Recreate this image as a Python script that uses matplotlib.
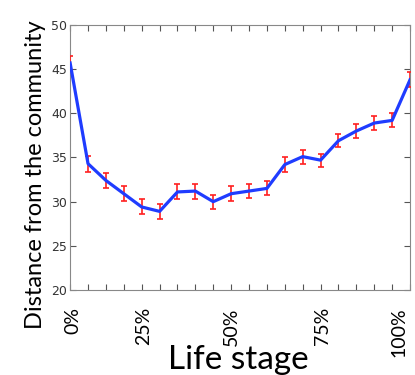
import matplotlib
matplotlib.use('Agg')
import matplotlib.pyplot as plt
import numpy as np

# данные
stage = list(range(20))
distance = [45.7, 34.3, 32.4, 30.9, 29.4, 28.9, 31.1, 31.2, 30.0, 30.9,
            31.2, 31.5, 34.2, 35.1, 34.7, 36.9, 38.0, 38.9, 39.2, 43.8]
err = [0.75, 0.9, 0.85, 0.85, 0.85, 0.85, 0.85, 0.85, 0.8, 0.85,
       0.8, 0.8, 0.8, 0.8, 0.75, 0.75, 0.8, 0.8, 0.8, 0.85]
tick_pos = [0.15, 4.1, 9.0, 14.1, 18.4]
tick_labels = ['0%', '25%', '50%', '75%', '100%']

fig = plt.figure(figsize=(4.15, 3.75), dpi=100)
ax = fig.add_axes([0.169, 0.2267, 0.819, 0.7066])

ax.errorbar(stage, distance, yerr=err, color='#1f3cff', linewidth=2.3,
            ecolor='#ff2020', elinewidth=1.2, capsize=2, capthick=1.2, zorder=3)

ax.set_xlim(0, 19)
ax.set_ylim(20, 50)
ax.set_yticks(range(20, 51, 5))

# засечки на каждой точке, подписи этапов отдельно
ax.set_xticks(stage)
ax.set_xticklabels([])
for p, lab in zip(tick_pos, tick_labels):
    ax.text(p, -0.065, lab, transform=ax.get_xaxis_transform(), rotation=90,
            ha='center', va='top', fontsize=14, family='Lato')
ax.tick_params(axis='both', which='major', direction='in', top=True,
               right=True, length=4, color='#555555')
ax.tick_params(axis='y', labelsize=9, labelcolor='#333333', pad=2)

for s in ax.spines.values():
    s.set_color('#888888')

fig.text(0.085, 0.535, 'Distance from the community', rotation=90,
         ha='center', va='center', fontsize=17, family='Lato')
fig.text(0.575, 0.0, 'Life stage', ha='center', va='bottom',
         fontsize=24, family='Lato')

fig.savefig('out.png', dpi=100)
